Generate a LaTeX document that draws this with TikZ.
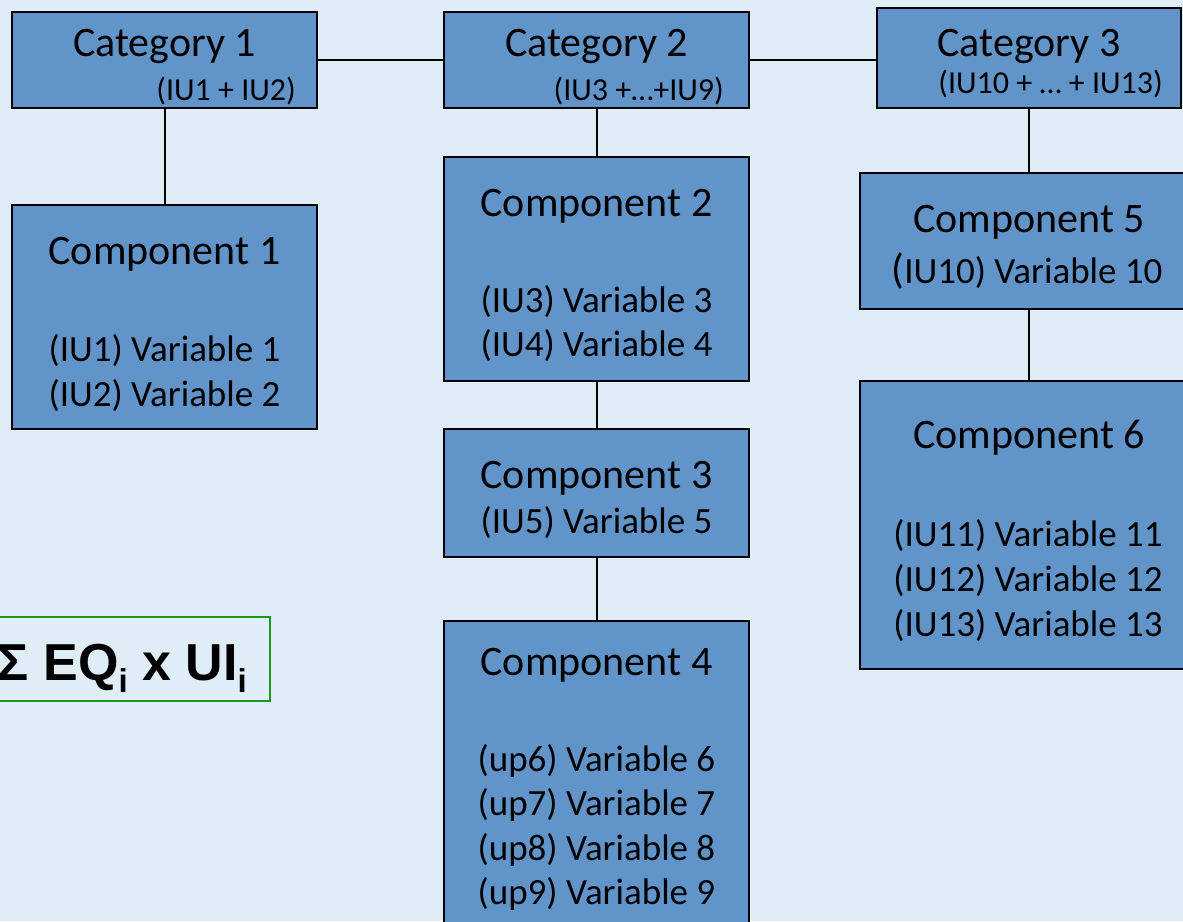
\documentclass[tikz,border=0pt]{standalone}
\usepackage{fontspec}
\setmainfont{Carlito}
\newfontfamily\formulafont{Liberation Sans}
\usepackage{xcolor}
\usepackage{tikz}
\usetikzlibrary{positioning, calc}
\definecolor{bgblue}{RGB}{222, 237, 246}
\definecolor{boxblue}{RGB}{97, 149, 201}
\definecolor{formgreen}{RGB}{30, 150, 30}

\begin{document}
\begin{tikzpicture}[x=1pt, y=-1pt,
  catbox/.style={draw=black, line width=2.5pt, fill=boxblue, rectangle, inner sep=0pt, minimum height=96},
  compbox/.style={draw=black, line width=2.5pt, fill=boxblue, rectangle, inner sep=0pt},
  wire/.style={draw=black, line width=2pt},
  headtext/.style={anchor=base, inner sep=0pt, font=\fontsize{42}{50}\selectfont},
  iutext/.style={anchor=base east, inner sep=0pt, font=\fontsize{32}{38}\selectfont},
  vartext/.style={anchor=base, inner sep=0pt, font=\fontsize{37}{44}\selectfont}]
\path[use as bounding box, fill=bgblue] (0,0) rectangle (1183,921);
\clip (0,0) rectangle (1183,921);

% category boxes
\node[catbox, minimum width=305] (cat1) at (164.5,60) {};
\node[catbox, minimum width=305] (cat2) at (596.5,60) {};
\node[catbox, minimum width=304, minimum height=100] (cat3) at (1029,58) {};
\node[headtext] (cat1t) at (164.5,56) {Category 1};
\node[headtext] (cat2t) at (596.5,56) {Category 2};
\node[headtext] (cat3t) at (1029,56) {Category 3};
\node[iutext] (cat1iu) at (296,100) {(IU1 + IU2)};
\node[iutext] (cat2iu) at (724,100) {(IU3 +…+IU9)};
\node[iutext] (cat3iu) at (1163,93) {(IU10 + … + IU13)};

% component boxes
\node[compbox, minimum width=305, minimum height=224] (comp1) at (164.5,317) {};
\node[compbox, minimum width=305, minimum height=224] (comp2) at (596.5,269) {};
\node[compbox, minimum width=305, minimum height=128] (comp3) at (596.5,493) {};
\node[compbox, minimum width=305, minimum height=330] (comp4) at (596.5,786) {};
\node[compbox, minimum width=338, minimum height=136] (comp5) at (1029,241) {};
\node[compbox, minimum width=338, minimum height=288] (comp6) at (1029,525) {};

% connectors
\draw[wire] (cat1.east) -- (cat2.west);
\draw[wire] (cat2.east) -- (cat2.east -| cat3.west);
\draw[wire] (cat1.south) -- (comp1.north);
\draw[wire] (cat2.south) -- (comp2.north);
\draw[wire] (comp2.south) -- (comp3.north);
\draw[wire] (comp3.south) -- (comp4.north);
\draw[wire] (cat3.south) -- (comp5.north);
\draw[wire] (comp5.south) -- (comp6.north);

% texts of the components
\node[headtext] (comp1t) at (164.5,264) {Component 1};
\node[vartext] (v1) at (164.5,361) {(IU1) Variable 1};
\node[vartext] (v2) at (164.5,406) {(IU2) Variable 2};
\node[headtext] (comp2t) at (596.5,216) {Component 2};
\node[vartext] (v3) at (596.5,312) {(IU3) Variable 3};
\node[vartext] (v4) at (596.5,356) {(IU4) Variable 4};
\node[headtext] (comp3t) at (596.5,488) {Component 3};
\node[vartext] (v5) at (596.5,533) {(IU5) Variable 5};
\node[headtext] (comp4t) at (596.5,675) {Component 4};
\foreach \i [count=\k from 0] in {6,...,9}
  \node[vartext] (v\i) at (596.5,771+44.5*\k) {(up\i) Variable \i};
\node[headtext] (comp5t) at (1029,232) {Component 5};
\node[vartext] (v10) at (1027,283) {{\fontsize{42}{44}\selectfont(}IU10) Variable 10};
\node[headtext] (comp6t) at (1029,448) {Component 6};
\foreach \i [count=\k from 0] in {11,12,13}
  \node[vartext] (v\i) at (1028,546+45*\k) {(IU\i) Variable \i};

% formula
\draw[formgreen, line width=2pt, fill=bgblue] (-10,617) rectangle (270,701);
\node[anchor=base east, inner sep=0pt, font=\formulafont\bfseries\fontsize{52}{60}\selectfont] (formula) at (247,680)
  {Σ EQ\raisebox{-12pt}{\fontsize{33}{33}\selectfont i} x UI\raisebox{-12pt}{\fontsize{33}{33}\selectfont i}};
\end{tikzpicture}
\end{document}
